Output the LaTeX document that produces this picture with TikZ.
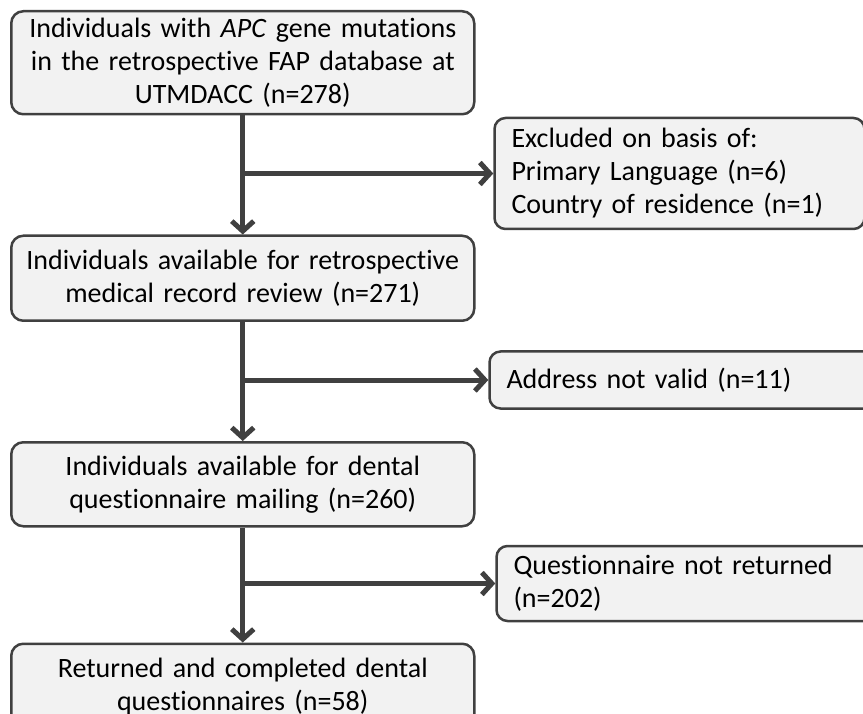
\documentclass[tikz,border=0pt]{standalone}
\usepackage{fontspec}
\setmainfont{Carlito}[Ligatures=NoCommon, RawFeature={-calt}]
\usetikzlibrary{calc,positioning,arrows.meta}
\definecolor{boxline}{HTML}{404040}
\definecolor{boxfill}{HTML}{F2F2F2}
\newcommand{\boxfont}{\fontsize{28}{33}\selectfont\spaceskip=0.16em plus 0.05em minus 0.03em\relax}
\tikzset{
    >={Straight Barb[length=10pt,width=22pt]},
    mainbox/.style={
        rectangle,
        rounded corners=12pt,
        draw=boxline, line width=2.5pt,
        fill=boxfill,
        inner xsep=8pt, inner ysep=3pt,
        text width=447pt,
        align=center,
        font=\boxfont
    },
    sidebox/.style={
        rectangle,
        rounded corners=11pt,
        draw=boxline, line width=2.5pt,
        fill=boxfill,
        inner xsep=17pt, inner ysep=3pt,
        align=left,
        anchor=west,
        font=\boxfont
    },
    flowline/.style={draw=boxline, line width=5pt, ->}
}

\begin{document}
\begin{tikzpicture}[x=1pt,y=1pt]
    \useasboundingbox (0,0) rectangle (863,-714);

    \node[mainbox, minimum height=103pt, anchor=north west] (apc) at (10,-10)
        {Individuals with \textit{APC} gene mutations\\ in the retrospective FAP database at\\ UTMDACC (n=278)};
    \node[mainbox, minimum height=85pt, below=119pt of apc] (avail)
        {Individuals available for retrospective\\ medical record review (n=271)};
    \node[mainbox, minimum height=84pt, below=119pt of avail] (mailing)
        {Individuals available for dental\\ questionnaire mailing (n=260)};
    \node[mainbox, minimum height=85pt, below=115pt of mailing] (returned)
        {Returned and completed dental\\ questionnaires (n=58)};

    % branch points
    \coordinate (b1) at ($(apc.south)!0.5!(avail.north)+(0,1.5)$);
    \coordinate (b2) at ($(avail.south)!0.5!(mailing.north)+(0,1.5)$);
    \coordinate (b3) at ($(mailing.south)!0.5!(returned.north)+(0,1.5)$);

    \node[sidebox, text width=336pt, minimum height=111pt, right=250.5pt of b1] (excluded)
        {Excluded on basis of:\\ Primary Language (n=6)\\ Country of residence (n=1)};
    \node[sidebox, text width=354pt, minimum height=57pt, right=245.5pt of b2] (address)
        {Address not valid (n=11)};
    \node[sidebox, text width=347pt, minimum height=75pt, right=252.5pt of b3] (notreturned)
        {Questionnaire not returned\\ (n=202)};

    \draw[flowline] (apc) -- (avail);
    \draw[flowline] (avail) -- (mailing);
    \draw[flowline] (mailing) -- (returned);
    \draw[flowline] (b1) -- (excluded);
    \draw[flowline] (b2) -- (address);
    \draw[flowline] (b3) -- (notreturned);
\end{tikzpicture}
\end{document}
